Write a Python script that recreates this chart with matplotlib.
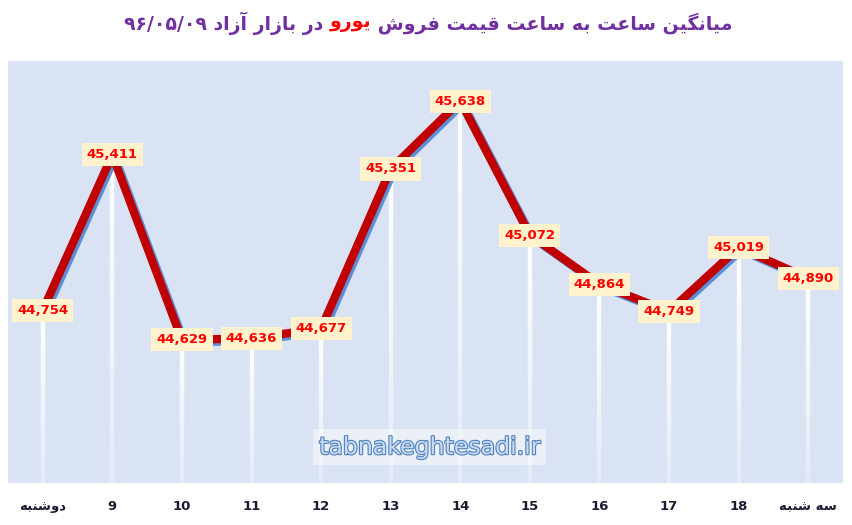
import re
import numpy as np
import matplotlib
matplotlib.use('Agg')
import matplotlib.pyplot as plt
import matplotlib.patheffects as pe
from matplotlib.collections import LineCollection

# داده ها
hours = ['دوشنبه', '9', '10', '11', '12', '13', '14', '15', '16', '17', '18', 'سه شنبه']
prices = [44754, 45411, 44629, 44636, 44677, 45351, 45638, 45072, 44864, 44749, 45019, 44890]

title_a = 'میانگین ساعت به ساعت قیمت فروش '
title_b = 'یورو'
title_c = ' در بازار آزاد ۹۶/۰۵/۰۹'

# شکل های حروف (isolated, final, initial, medial)
FORMS = {
    'ا': ('\uFE8D', '\uFE8E', None, None),
    'آ': ('\uFE81', '\uFE82', None, None),
    'ب': ('\uFE8F', '\uFE90', '\uFE91', '\uFE92'),
    'ت': ('\uFE95', '\uFE96', '\uFE97', '\uFE98'),
    'د': ('\uFEA9', '\uFEAA', None, None),
    'ر': ('\uFEAD', '\uFEAE', None, None),
    'ز': ('\uFEAF', '\uFEB0', None, None),
    'س': ('\uFEB1', '\uFEB2', '\uFEB3', '\uFEB4'),
    'ش': ('\uFEB5', '\uFEB6', '\uFEB7', '\uFEB8'),
    'ع': ('\uFEC9', '\uFECA', '\uFECB', '\uFECC'),
    'ف': ('\uFED1', '\uFED2', '\uFED3', '\uFED4'),
    'ق': ('\uFED5', '\uFED6', '\uFED7', '\uFED8'),
    'م': ('\uFEE1', '\uFEE2', '\uFEE3', '\uFEE4'),
    'ن': ('\uFEE5', '\uFEE6', '\uFEE7', '\uFEE8'),
    'ه': ('\uFEE9', '\uFEEA', '\uFEEB', '\uFEEC'),
    'و': ('\uFEED', '\uFEEE', None, None),
    'ی': ('\uFBFC', '\uFBFD', '\uFBFE', '\uFBFF'),
    'گ': ('\uFB92', '\uFB93', '\uFB94', '\uFB95'),
}


def fa(s):
    out = []
    for i, ch in enumerate(s):
        if ch not in FORMS:
            out.append(ch)
            continue
        prev = s[i - 1] if i > 0 else ''
        nxt = s[i + 1] if i + 1 < len(s) else ''
        join_prev = prev in FORMS and FORMS[prev][2] is not None
        join_next = FORMS[ch][2] is not None and nxt in FORMS
        iso, fin, ini, med = FORMS[ch]
        if join_prev and join_next:
            out.append(med)
        elif join_prev:
            out.append(fin)
        elif join_next:
            out.append(ini)
        else:
            out.append(iso)
    vis = ''.join(out)[::-1]
    return re.sub(r'[0-9۰-۹/]+', lambda m: m.group(0)[::-1], vis)


W, H = 853, 525
fig = plt.figure(figsize=(W / 100, H / 100), dpi=100)
fig.patch.set_facecolor('white')
ax = fig.add_axes([8 / W, 42 / H, 835 / W, 422 / H])
ax.set_facecolor('#dae3f3')
for s in ax.spines.values():
    s.set_visible(False)

x = np.arange(len(prices))
ymin, ymax = 44025, 45807
ax.set_xlim(-0.5, len(prices) - 0.5)
ax.set_ylim(ymin, ymax)

# خطوط عمودی سفید
segs, cols = [], []
for xi, yi in zip(x, prices):
    ys = np.linspace(ymin, yi, 30)
    for k in range(len(ys) - 1):
        segs.append([(xi, ys[k]), (xi, ys[k + 1])])
        cols.append((1, 1, 1, 0.3 + 0.7 * k / (len(ys) - 2)))
ax.add_collection(LineCollection(segs, colors=cols, linewidths=3.2, zorder=1))

ax.plot(x, prices, color='#c00000', lw=6, solid_capstyle='round', zorder=3,
        path_effects=[pe.SimpleLineShadow(offset=(1.8, -1.8), shadow_color='#5b8fd6', alpha=1),
                      pe.Normal()])

for xi, yi in zip(x, prices):
    ax.text(xi, yi, f'{yi:,}', ha='center', va='center', fontsize=9.5, fontweight='bold',
            color='#ff0000', zorder=5,
            bbox=dict(boxstyle='square,pad=0.38', facecolor='#fff2cc', edgecolor='none'))

ax.set_xticks(x)
ax.set_xticklabels([fa(h) for h in hours], fontsize=9.5, fontweight='bold', color='#1b1b33')
ax.tick_params(axis='x', length=0, pad=12)
ax.set_yticks([])

ax.text(0.505, 0.085, 'tabnakeghtesadi.ir', transform=ax.transAxes, ha='center', va='center',
        fontsize=17, family=['Liberation Sans Narrow', 'DejaVu Sans'], color='#c9dcf2',
        path_effects=[pe.withStroke(linewidth=1.6, foreground='#4f81bd')],
        bbox=dict(boxstyle='square,pad=0.25', facecolor='white', alpha=0.45, edgecolor='none'),
        zorder=2)

# عنوان با دو رنگ
pieces = [(fa(title_c), '#7030a0'), (fa(title_b), '#ff0000'), (fa(title_a), '#7030a0')]
texts = [fig.text(0, 1 - 23 / H, p, color=c, fontsize=13.6, fontweight='bold',
                  ha='left', va='center') for p, c in pieces]
r = fig.canvas.get_renderer()
widths = [t.get_window_extent(r).width for t in texts]
xp = 428.5 - sum(widths) / 2
for t, w in zip(texts, widths):
    t.set_x(xp / W)
    xp += w

fig.savefig('out.png', dpi=100)
